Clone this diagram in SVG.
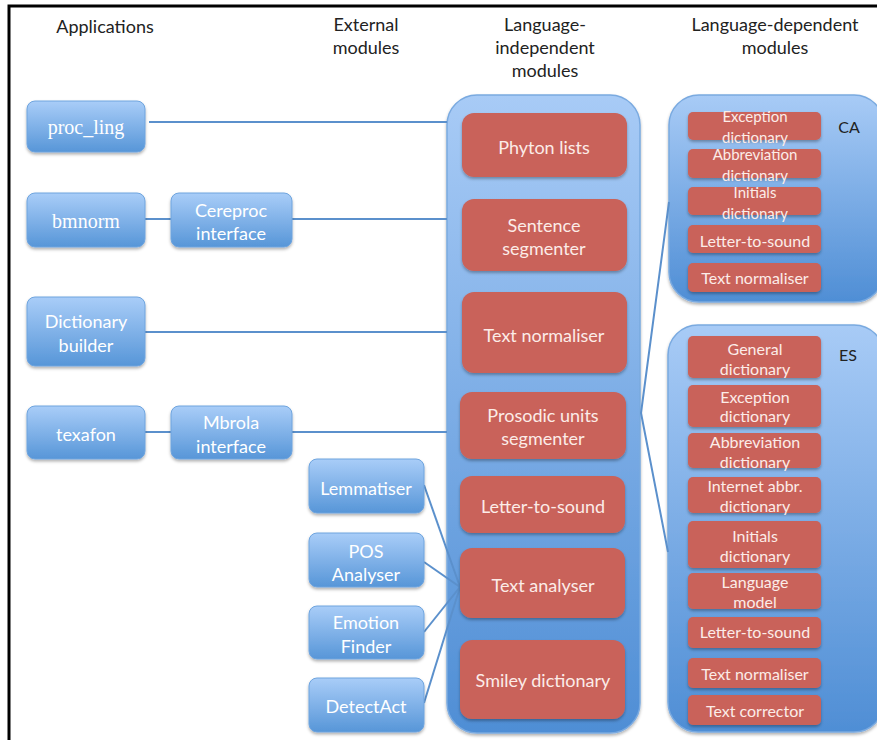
<svg xmlns="http://www.w3.org/2000/svg" width="877" height="740" viewBox="0 0 877 740">
<defs>
<linearGradient id="gb" x1="0" y1="0" x2="0" y2="1"><stop offset="0" stop-color="#a9cdf8"/><stop offset="1" stop-color="#5796d8"/></linearGradient>
<linearGradient id="gc" x1="0" y1="0" x2="0" y2="1"><stop offset="0" stop-color="#a8cbf6"/><stop offset="1" stop-color="#4f8ed5"/></linearGradient>
<filter id="sh" x="-10%" y="-10%" width="120%" height="130%"><feDropShadow dx="0" dy="2" stdDeviation="1.5" flood-color="#000" flood-opacity="0.3"/></filter>
<style>
.bn{fill:url(#gb);stroke:#6ea4de;stroke-width:1;filter:url(#sh)}
.ct{fill:url(#gc);stroke:#7aaae0;stroke-width:1.5;filter:url(#sh)}
.rd{fill:#c9625a;filter:url(#sh)}
.t{font-family:Lato,"Liberation Sans",sans-serif;font-size:18px;text-anchor:middle}
.w{fill:#ffffff}
.p{fill:#fcece8}
.s{font-size:16px}
.s2{font-size:15px}
.sf{font-family:"Liberation Serif",serif;font-size:20px;text-anchor:middle;fill:#fff}
.h{fill:#222}
.c{stroke:#5b90cc;stroke-width:2;fill:none}
</style>
</defs>
<rect width="877" height="740" fill="#fff"/>
<path d="M9,740 V6 H877" stroke="#000" stroke-width="3" fill="none"/>
<g id="headers">
<text class="t h" x="105" y="33">Applications</text>
<text class="t h" x="366" y="31">External</text>
<text class="t h" x="366" y="54">modules</text>
<text class="t h" x="545" y="31">Language-</text>
<text class="t h" x="545" y="54">independent</text>
<text class="t h" x="545" y="77">modules</text>
<text class="t h" x="775" y="31">Language-dependent</text>
<text class="t h" x="775" y="54">modules</text>
</g>
<g id="lang-independent"><rect class="ct" x="447" y="95" width="193" height="638" rx="30"/></g>
<g id="CA"><rect class="ct" x="669" y="95" width="215" height="207" rx="30"/><text class="t h" x="849" y="133" style="font-size:16px">CA</text></g>
<g id="ES"><rect class="ct" x="668" y="325" width="216" height="407" rx="30"/><text class="t h" x="848" y="361" style="font-size:16px">ES</text></g>
<g id="connectors">
<path class="c" d="M149,122 H447"/>
<path class="c" d="M145,219 H171"/>
<path class="c" d="M292,219 H447"/>
<path class="c" d="M145,332 H447"/>
<path class="c" d="M145,432 H171"/>
<path class="c" d="M292,432 H447"/>
<path class="c" d="M424,485 L460,587"/>
<path class="c" d="M424,562 L460,587"/>
<path class="c" d="M424,632 L460,587"/>
<path class="c" d="M424,703 L460,587"/>
<path class="c" d="M669,202 L641,413 L668,552"/>
</g>
<g id="proc_ling"><rect class="bn" x="27" y="101" width="118" height="51" rx="8"/><text class="sf" x="86" y="134">proc_ling</text></g>
<g id="bmnorm"><rect class="bn" x="27" y="193" width="118" height="54" rx="8"/><text class="sf" x="86" y="228">bmnorm</text></g>
<g id="cereproc"><rect class="bn" x="171" y="193" width="121" height="54" rx="8"/><text class="t w" x="231" y="217">Cereproc</text><text class="t w" x="231" y="240">interface</text></g>
<g id="dictionary-builder"><rect class="bn" x="27" y="297" width="118" height="69" rx="8"/><text class="t w" x="86" y="328">Dictionary</text><text class="t w" x="86" y="352">builder</text></g>
<g id="texafon"><rect class="bn" x="27" y="406" width="118" height="53" rx="8"/><text class="t w" x="86" y="441">texafon</text></g>
<g id="mbrola"><rect class="bn" x="171" y="406" width="121" height="53" rx="8"/><text class="t w" x="231" y="429">Mbrola</text><text class="t w" x="231" y="453">interface</text></g>
<g id="lemmatiser"><rect class="bn" x="309" y="459" width="115" height="54" rx="8"/><text class="t w" x="366" y="495">Lemmatiser</text></g>
<g id="pos"><rect class="bn" x="309" y="533" width="115" height="54" rx="8"/><text class="t w" x="366" y="558">POS</text><text class="t w" x="366" y="581">Analyser</text></g>
<g id="emotion"><rect class="bn" x="309" y="606" width="115" height="53" rx="8"/><text class="t w" x="366" y="629">Emotion</text><text class="t w" x="366" y="653">Finder</text></g>
<g id="detectact"><rect class="bn" x="309" y="678" width="115" height="54" rx="8"/><text class="t w" x="366" y="713">DetectAct</text></g>
<g id="phyton"><rect class="rd" x="462" y="113" width="165" height="64" rx="12"/><text class="t p" x="544" y="154">Phyton lists</text></g>
<g id="sentence"><rect class="rd" x="462" y="199" width="165" height="72" rx="12"/><text class="t p" x="544" y="232">Sentence</text><text class="t p" x="544" y="255">segmenter</text></g>
<g id="textnorm"><rect class="rd" x="462" y="292" width="165" height="81" rx="12"/><text class="t p" x="544" y="342">Text normaliser</text></g>
<g id="prosodic"><rect class="rd" x="460" y="392" width="166" height="67" rx="12"/><text class="t p" x="543" y="422">Prosodic units</text><text class="t p" x="543" y="445">segmenter</text></g>
<g id="lts"><rect class="rd" x="460" y="476" width="165" height="57" rx="12"/><text class="t p" x="543" y="513">Letter-to-sound</text></g>
<g id="textanalyser"><rect class="rd" x="460" y="548" width="165" height="70" rx="12"/><text class="t p" x="543" y="592">Text analyser</text></g>
<g id="smiley"><rect class="rd" x="460" y="640" width="165" height="79" rx="12"/><text class="t p" x="543" y="687">Smiley dictionary</text></g>
<g id="ca-exception"><rect class="rd" x="688" y="112" width="133" height="28" rx="5"/><text class="t p s2" x="755" y="122">Exception</text><text class="t p s2" x="755" y="143">dictionary</text></g>
<g id="ca-abbr"><rect class="rd" x="688" y="149" width="133" height="29" rx="5"/><text class="t p s2" x="755" y="160">Abbreviation</text><text class="t p s2" x="755" y="181">dictionary</text></g>
<g id="ca-initials"><rect class="rd" x="688" y="187" width="133" height="28" rx="5"/><text class="t p s2" x="755" y="198">Initials</text><text class="t p s2" x="755" y="219">dictionary</text></g>
<g id="ca-lts"><rect class="rd" x="688" y="225" width="133" height="28" rx="5"/><text class="t p s" x="755" y="247">Letter-to-sound</text></g>
<g id="ca-textnorm"><rect class="rd" x="688" y="263" width="133" height="29" rx="5"/><text class="t p s" x="755" y="284">Text normaliser</text></g>
<g id="es-general"><rect class="rd" x="688" y="336" width="133" height="42" rx="5"/><text class="t p s" x="755" y="355">General</text><text class="t p s" x="755" y="375">dictionary</text></g>
<g id="es-exception"><rect class="rd" x="688" y="385" width="133" height="42" rx="5"/><text class="t p s" x="755" y="403">Exception</text><text class="t p s" x="755" y="422">dictionary</text></g>
<g id="es-abbr"><rect class="rd" x="688" y="433" width="133" height="35" rx="5"/><text class="t p s" x="755" y="448">Abbreviation</text><text class="t p s" x="755" y="468">dictionary</text></g>
<g id="es-internet"><rect class="rd" x="688" y="477" width="133" height="36" rx="5"/><text class="t p s" x="755" y="492">Internet abbr.</text><text class="t p s" x="755" y="512">dictionary</text></g>
<g id="es-initials"><rect class="rd" x="688" y="521" width="133" height="47" rx="5"/><text class="t p s" x="755" y="542">Initials</text><text class="t p s" x="755" y="562">dictionary</text></g>
<g id="es-langmodel"><rect class="rd" x="688" y="573" width="133" height="36" rx="5"/><text class="t p s" x="755" y="588">Language</text><text class="t p s" x="755" y="608">model</text></g>
<g id="es-lts"><rect class="rd" x="688" y="617" width="133" height="31" rx="5"/><text class="t p s" x="755" y="638">Letter-to-sound</text></g>
<g id="es-textnorm"><rect class="rd" x="688" y="658" width="133" height="30" rx="5"/><text class="t p s" x="755" y="680">Text normaliser</text></g>
<g id="es-corrector"><rect class="rd" x="688" y="695" width="133" height="30" rx="5"/><text class="t p s" x="755" y="717">Text corrector</text></g>
</svg>
